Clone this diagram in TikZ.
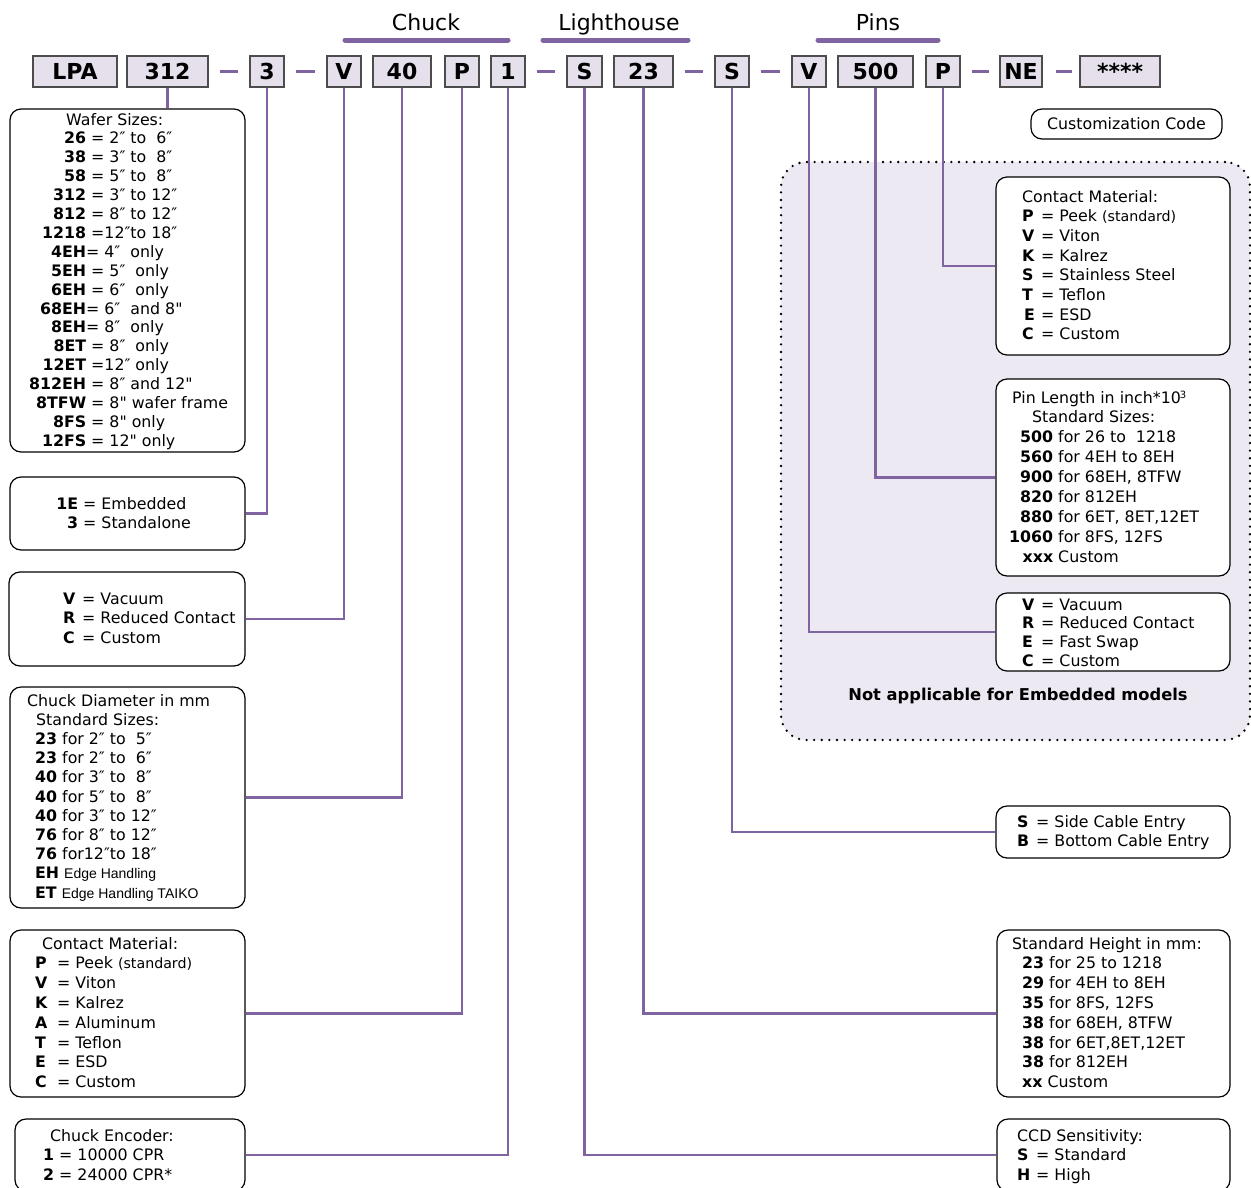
\documentclass[tikz,border=0pt]{standalone}
\usepackage{fontspec}
\setmainfont{DejaVu Sans}[Ligatures=TeXOff]
\newfontfamily\arialf{Liberation Sans}
\definecolor{lpurple}{HTML}{8064A2}
\definecolor{boxfill}{HTML}{E5E0EC}
\definecolor{regfill}{HTML}{EDE9F3}
\newcommand\cR[2]{\makebox[#1pt][r]{\textbf{#2}}}
\newcommand\cL[2]{\makebox[#1pt][l]{\textbf{#2}}}
\newcommand\smallt[1]{{\fontsize{14.2}{14.2}\selectfont #1}}
\newcommand\edget[1]{{\arialf\fontsize{14}{14}\selectfont #1}}
\begin{document}
\begin{tikzpicture}[x=1pt,y=-1pt,
  topbox/.style={draw=black!70, fill=boxfill, line width=1.3pt, inner sep=0pt, minimum height=31pt, font=\fontsize{22}{24}\selectfont\bfseries},
  panel/.style={draw=black, fill=white, rounded corners=11pt, line width=1.2pt, inner sep=0pt},
  conn/.style={draw=lpurple, line width=2.6pt},
  dashc/.style={draw=lpurple, line width=3pt, shorten <=11pt, shorten >=11pt},
  bar/.style={draw=lpurple, line width=5pt, line cap=round},
  txt/.style={inner sep=0pt, anchor=base west, font=\fontsize{15.8}{#1}\selectfont},
  txt/.default=19,
  ttl/.style={inner sep=0pt, anchor=base, font=\fontsize{22}{24}\selectfont}]
\useasboundingbox (0,0) rectangle (1251,1187);
\clip (0,0) rectangle (1251,1187);
\fill[white] (0,0) rectangle (1251,1187);

% region
\node[fill=regfill, draw=black, line width=2.6pt, line cap=round, dash pattern=on 0pt off 7.6pt, rounded corners=25pt, minimum width=469pt, minimum height=578pt, inner sep=0pt] (region) at (1015.5,451) {};

% titles and bars
\node[ttl] (tChuck) at (426,30) {Chuck};
\node[ttl] (tLight) at (619,30) {Lighthouse};
\node[ttl] (tPins) at (878,30) {Pins};
\draw[bar] (345,40) -- (508,40);
\draw[bar] (543,40) -- (688,40);
\draw[bar] (818,40) -- (938,40);

% top code boxes
\node[topbox, minimum width=84pt] (bLPA) at (75,71.5) {LPA};
\node[topbox, minimum width=81pt] (b312) at (167.5,71.5) {312};
\node[topbox, minimum width=34pt] (b3) at (267,71.5) {3};
\node[topbox, minimum width=34pt] (bV) at (344,71.5) {V};
\node[topbox, minimum width=58pt] (b40) at (402,71.5) {40};
\node[topbox, minimum width=34pt] (bP) at (462,71.5) {P};
\node[topbox, minimum width=34pt] (b1) at (508,71.5) {1};
\node[topbox, minimum width=35pt] (bS) at (584.5,71.5) {S};
\node[topbox, minimum width=59pt] (b23) at (643.5,71.5) {23};
\node[topbox, minimum width=34pt] (bS2) at (732,71.5) {S};
\node[topbox, minimum width=34pt] (bV2) at (809,71.5) {V};
\node[topbox, minimum width=75pt] (b500) at (875.5,71.5) {500};
\node[topbox, minimum width=34pt] (bP2) at (943,71.5) {P};
\node[topbox, minimum width=42pt] (bNE) at (1021,71.5) {NE};
\node[topbox, minimum width=80pt] (bStar) at (1120,71.5) {****};

% dashes
\draw[dashc] (b312.east) -- (b3.west);
\draw[dashc] (b3.east) -- (bV.west);
\draw[dashc] (b1.east) -- (bS.west);
\draw[dashc] (b23.east) -- (bS2.west);
\draw[dashc] (bS2.east) -- (bV2.west);
\draw[dashc, shorten >=10pt] (bP2.east) -- (bNE.west);
\draw[dashc, shorten <=13pt, shorten >=7pt] (bNE.east) -- (bStar.west);

% panels
\node[panel, minimum width=235pt, minimum height=343pt] (wafer) at (127.5,280.5) {};
\node[panel, minimum width=235pt, minimum height=73pt] (sel) at (127.5,513.5) {};
\node[panel, minimum width=236pt, minimum height=94pt] (vac) at (127,619) {};
\node[panel, minimum width=235pt, minimum height=221pt] (diam) at (127.5,797.5) {};
\node[panel, minimum width=235pt, minimum height=167pt] (cml) at (127.5,1013.5) {};
\node[panel, minimum width=230pt, minimum height=72pt] (enc) at (130,1155) {};
\node[panel, minimum width=191pt, minimum height=30pt, font=\fontsize{15.8}{19}\selectfont] (cust) at (1126.5,124) {Customization Code};
\node[panel, minimum width=234pt, minimum height=178pt] (cmr) at (1113,266) {};
\node[panel, minimum width=234pt, minimum height=197pt] (pin) at (1113,477.5) {};
\node[panel, minimum width=234pt, minimum height=78pt] (vrr) at (1113,632) {};
\node[panel, minimum width=234pt, minimum height=52pt] (sb) at (1113,832) {};
\node[panel, minimum width=233pt, minimum height=167pt] (sh) at (1113.5,1013.5) {};
\node[panel, minimum width=233pt, minimum height=72pt] (ccd) at (1113.5,1155) {};

% connectors
\draw[conn] (b312.south) -- (b312.south |- wafer.north);
\draw[conn] (b3.south) |- (sel.east);
\draw[conn] (bV.south) |- (vac.east);
\draw[conn] (b40.south) |- (diam.east);
\draw[conn] (bP.south) |- (cml.east);
\draw[conn] (b1.south) |- (enc.east);
\draw[conn] (bS.south) |- (ccd.west);
\draw[conn] (b23.south) |- (sh.west);
\draw[conn] (bS2.south) |- (sb.west);
\draw[conn] (bV2.south) |- (vrr.west);
\draw[conn] (b500.south) |- (pin.west);
\draw[conn] (bP2.south) |- (cmr.west);

% texts left
\node[txt=18.9] (waferT) at (24,125) {\begin{tabular}[t]{@{}l@{}}
\hspace*{42pt}Wafer Sizes:\\
\cR{62}{26} = 2″ to~ 6″\\
\cR{62}{38} = 3″ to~ 8″\\
\cR{62}{58} = 5″ to~ 8″\\
\cR{62}{312} = 3″ to 12″\\
\cR{62}{812} = 8″ to 12″\\
\cR{62}{1218} =12″to 18″\\
\cR{62}{4EH}= 4″~ only\\
\cR{62}{5EH} = 5″~ only\\
\cR{62}{6EH} = 6″~ only\\
\cR{62}{68EH}= 6″~ and 8"\\
\cR{62}{8EH}= 8″~ only\\
\cR{62}{8ET} = 8″~ only\\
\cR{62}{12ET} =12″ only\\
\cR{62}{812EH} = 8″ and 12"\\
\cR{62}{8TFW} = 8" wafer frame\\
\cR{62}{8FS} = 8" only\\
\cR{62}{12FS} = 12" only
\end{tabular}};
\node[txt=19] (selT) at (48,509) {\begin{tabular}[t]{@{}l@{}}
\cR{30}{1E} = Embedded\\
\cR{30}{3} = Standalone
\end{tabular}};
\node[txt=19.5] (vacT) at (63,604) {\begin{tabular}[t]{@{}l@{}}
\cL{14}{V} = Vacuum\\
\cL{14}{R} = Reduced Contact\\
\cL{14}{C} = Custom
\end{tabular}};
\node[txt=19.2] (diamT) at (27,706) {\begin{tabular}[t]{@{}l@{}}
Chuck Diameter in mm\\
\hspace*{9pt}Standard Sizes:\\
\hspace*{8pt}\textbf{23} for 2″ to~ 5″\\
\hspace*{8pt}\textbf{23} for 2″ to~ 6″\\
\hspace*{8pt}\textbf{40} for 3″ to~ 8″\\
\hspace*{8pt}\textbf{40} for 5″ to~ 8″\\
\hspace*{8pt}\textbf{40} for 3″ to 12″\\
\hspace*{8pt}\textbf{76} for 8″ to 12″\\
\hspace*{8pt}\textbf{76} for12″to 18″\\
\hspace*{8pt}\textbf{EH} \edget{Edge Handling}\\
\hspace*{8pt}\textbf{ET} \edget{Edge Handling TAIKO}
\end{tabular}};
\node[txt=19.8] (cmlT) at (35,949) {\begin{tabular}[t]{@{}l@{}}
\hspace*{7pt}Contact Material:\\
\cL{17}{P} = Peek \smallt{(standard)}\\
\cL{17}{V} = Viton\\
\cL{17}{K} = Kalrez\\
\cL{17}{A} = Aluminum\\
\cL{17}{T} = Teflon\\
\cL{17}{E} = ESD\\
\cL{17}{C} = Custom
\end{tabular}};
\node[txt=19.5] (encT) at (43,1141) {\begin{tabular}[t]{@{}l@{}}
\hspace*{7pt}Chuck Encoder:\\
\cL{11}{1} = 10000 CPR\\
\cL{11}{2} = 24000 CPR*
\end{tabular}};

% texts right
\node[txt=19.7] (cmrT) at (1022,202) {\begin{tabular}[t]{@{}l@{}}
Contact Material:\\
\cL{14}{P} = Peek \smallt{(standard)}\\
\cL{14}{V} = Viton\\
\cL{14}{K} = Kalrez\\
\cL{14}{S} = Stainless Steel\\
\cL{14}{T} = Teflon\\
\hspace*{2pt}\cL{12}{E} = ESD\\
\cL{14}{C} = Custom
\end{tabular}};
\node[txt=19.9] (pinT) at (1007,403) {\begin{tabular}[t]{@{}l@{}}
\hspace*{5pt}Pin Length in inch*10\kern-1pt\raisebox{5pt}{\fontsize{10}{10}\selectfont 3}\\
\hspace*{25pt}Standard Sizes:\\
\cR{46}{500} for 26 to~ 1218\\
\cR{46}{560} for 4EH to 8EH\\
\cR{46}{900} for 68EH, 8TFW\\
\cR{46}{820} for 812EH\\
\cR{46}{880} for 6ET, 8ET,12ET\\
\cR{46}{1060} for 8FS, 12FS\\
\cR{46}{xxx} Custom
\end{tabular}};
\node[txt=18.8] (vrrT) at (1022,610) {\begin{tabular}[t]{@{}l@{}}
\cL{14}{V} = Vacuum\\
\cL{14}{R} = Reduced Contact\\
\cL{14}{E} = Fast Swap\\
\cL{14}{C} = Custom
\end{tabular}};
\node[inner sep=0pt, anchor=base, font=\fontsize{16.3}{19}\selectfont\bfseries] (naT) at (1018,700) {Not applicable for Embedded models};
\node[txt=19] (sbT) at (1017,827) {\begin{tabular}[t]{@{}l@{}}
\cL{14}{S} = Side Cable Entry\\
\cL{14}{B} = Bottom Cable Entry
\end{tabular}};
\node[txt=19.8] (shT) at (1012,949) {\begin{tabular}[t]{@{}l@{}}
Standard Height in mm:\\
\hspace*{10pt}\textbf{23} for 25 to 1218\\
\hspace*{10pt}\textbf{29} for 4EH to 8EH\\
\hspace*{10pt}\textbf{35} for 8FS, 12FS\\
\hspace*{10pt}\textbf{38} for 68EH, 8TFW\\
\hspace*{10pt}\textbf{38} for 6ET,8ET,12ET\\
\hspace*{10pt}\textbf{38} for 812EH\\
\hspace*{10pt}\textbf{xx} Custom
\end{tabular}};
\node[txt=19.5] (ccdT) at (1017,1141) {\begin{tabular}[t]{@{}l@{}}
CCD Sensitivity:\\
\cL{14}{S} = Standard\\
\cL{14}{H} = High
\end{tabular}};
\end{tikzpicture}
\end{document}
